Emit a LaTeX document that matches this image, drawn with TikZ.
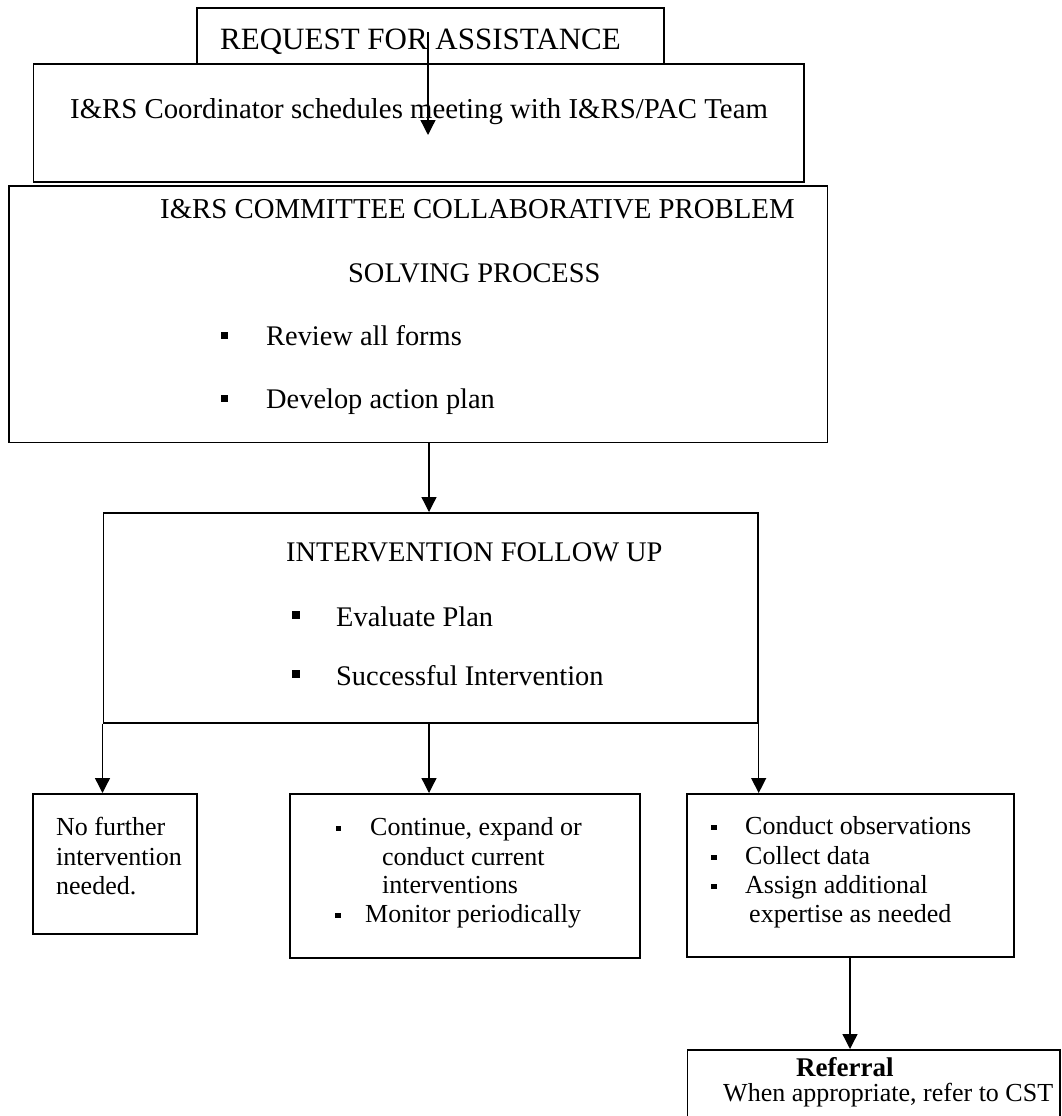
\documentclass[tikz,border=0pt]{standalone}
\usepackage{fontspec}
\setmainfont{Liberation Serif}
\usetikzlibrary{arrows.meta}
\newcommand\sqbul[3]{\llap{\rule[#1]{#2}{#2}\hspace{#3}}}
\tikzset{
  box/.style={draw, line width=1.7pt, inner sep=0pt, anchor=north west},
  txt/.style={anchor=base west, inner sep=0pt, font=\fontsize{28.4pt}{30pt}\selectfont},
  txtbig/.style={txt, font=\fontsize{31pt}{32pt}\selectfont},
  txtsm/.style={txt, font=\fontsize{26pt}{28pt}\selectfont},
  arr/.style={line width=1.3pt, -{Triangle[length=15pt,width=15pt]}}
}
\begin{document}
\begin{tikzpicture}[x=1pt,y=-1pt]
\clip (0,0) rectangle (1061,1116);
\fill[white] (0,0) rectangle (1061,1116);

% boxes
\node[box, minimum width=467pt, minimum height=56pt] (req) at (196,7) {};
\node[box, minimum width=770.5pt, minimum height=118pt] (coord) at (32.5,63) {};
\node[box, minimum width=818.5pt, minimum height=256.7pt] (comm) at (8,185) {};
\node[box, minimum width=654.5pt, minimum height=210pt] (interv) at (102.5,512) {};
\node[box, minimum width=164pt, minimum height=140pt] (lbox) at (32,793) {};
\node[box, minimum width=350pt, minimum height=164pt] (mbox) at (289,793) {};
\node[box, minimum width=327pt, minimum height=163pt] (rbox) at (686,793) {};
\node[box, minimum width=372.5pt, minimum height=100pt] (refbox) at (686.5,1049) {};

% texts
\node[txtbig] (treq) at (220,50) {REQUEST FOR ASSISTANCE};
\node[txt, font=\fontsize{28.8pt}{30pt}\selectfont] (tcoord) at (70,118) {I\&RS Coordinator schedules meeting with I\&RS/PAC Team};

\node[txt, font=\fontsize{28.8pt}{30pt}\selectfont] (tc1) at (160,218) {I\&RS COMMITTEE COLLABORATIVE PROBLEM};
\node[txt] (tc2) at (348,282) {SOLVING PROCESS};
\node[txt] (tc3) at (266,345) {\sqbul{6pt}{7pt}{38pt}Review all forms};
\node[txt] (tc4) at (266,408) {\sqbul{6pt}{7pt}{38pt}Develop action plan};

\node[txt] (ti1) at (286,561) {INTERVENTION FOLLOW UP};
\node[txt] (ti2) at (336,626) {\sqbul{7pt}{8pt}{36pt}Evaluate Plan};
\node[txt] (ti3) at (336,685) {\sqbul{7pt}{8pt}{36pt}Successful Intervention};

\node[txtsm] (tl1) at (56,835) {No further};
\node[txtsm] (tl2) at (56,865) {intervention};
\node[txtsm] (tl3) at (56,894) {needed.};

\node[txtsm] (tm1) at (370,835) {\sqbul{4pt}{5.5pt}{29pt}Continue, expand or};
\node[txtsm] (tm2) at (382,865) {conduct current};
\node[txtsm] (tm3) at (382,893) {interventions};
\node[txtsm] (tm4) at (365,922) {\sqbul{4pt}{5.5pt}{24.5pt}Monitor periodically};

\node[txtsm] (tr1) at (745,834) {\sqbul{4pt}{5.5pt}{28.5pt}Conduct observations};
\node[txtsm] (tr2) at (745,864) {\sqbul{4pt}{5.5pt}{28.5pt}Collect data};
\node[txtsm] (tr3) at (745,893) {\sqbul{4pt}{5.5pt}{28.5pt}Assign additional};
\node[txtsm] (tr4) at (749,922) {expertise as needed};

\node[txtsm, font=\fontsize{27pt}{28pt}\selectfont] (tf1) at (796,1076) {\bfseries Referral};
\node[txtsm] (tf2) at (723,1101) {When appropriate, refer to CST};

% connectors
\coordinate (a1s) at (428,32);
\coordinate (a1e) at (428,135);
\draw[arr] (a1s) -- (a1e);

\coordinate (xmid) at (429,0);
\draw[arr] (comm.south -| xmid) -- (interv.north -| xmid);

\draw[arr] (interv.south west) -- (lbox.north -| interv.south west);
\draw[arr] (interv.south -| xmid) -- (mbox.north -| xmid);
\draw[arr] (interv.south east) -- (rbox.north -| interv.south east);

\coordinate (xref) at (850,0);
\draw[arr] (rbox.south -| xref) -- (refbox.north -| xref);
\end{tikzpicture}
\end{document}
